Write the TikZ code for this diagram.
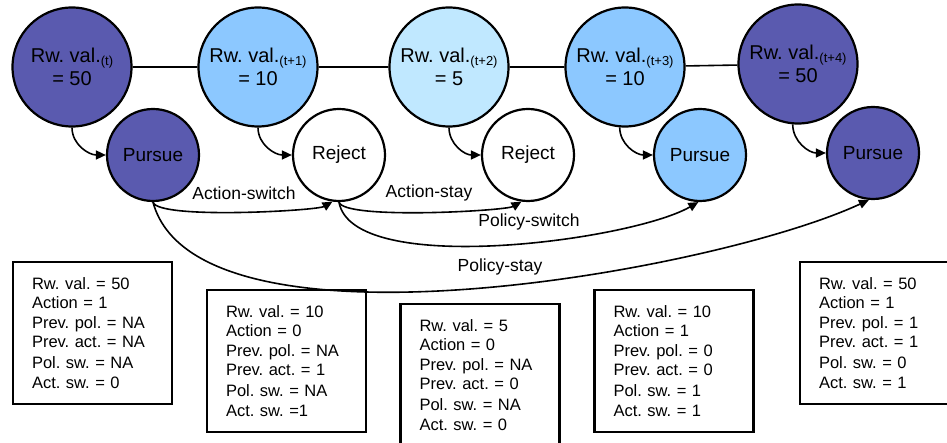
\documentclass[tikz,border=0pt]{standalone}
\usepackage{fontspec}
\setmainfont{Liberation Sans}
\usetikzlibrary{arrows.meta}
\definecolor{rwdark}{RGB}{90,90,175}
\definecolor{rwmid}{RGB}{140,200,255}
\definecolor{rwlight}{RGB}{192,232,255}
\newcommand{\rwsub}[1]{\raisebox{-3pt}{\fontsize{13}{13}\selectfont(#1)}}
\frenchspacing

\begin{document}
\begin{tikzpicture}[x=1pt,y=1pt,
    rw/.style={circle,draw,line width=2.2pt,minimum size=119pt,inner sep=0pt,align=center,font=\fontsize{20}{23}\selectfont},
    act/.style={circle,draw,line width=2.2pt,minimum size=92pt,inner sep=0pt,font=\fontsize{19}{22}\selectfont},
    infobox/.style={draw,line width=2.2pt,inner xsep=19pt,text width=121pt,minimum height=142pt,align=left,font=\fontsize{16.5}{19.3}\selectfont},
    lnk/.style={line width=1.6pt,-{Triangle[length=10pt,width=9pt]}},
    lbl/.style={font=\fontsize{17.5}{20}\selectfont}]
    \useasboundingbox (0,0) rectangle (947,-443);
    \clip (0,0) rectangle (947,-443);
    \node[rw,fill=rwdark] (rwA) at (72,-67) {Rw. val.\rwsub{t}\\= 50};
    \node[rw,fill=rwmid] (rwB) at (258,-67) {Rw. val.\rwsub{t+1}\\= 10};
    \node[rw,fill=rwlight] (rwC) at (449,-67) {Rw. val.\rwsub{t+2}\\= 5};
    \node[rw,fill=rwmid] (rwD) at (625,-67) {Rw. val.\rwsub{t+3}\\= 10};
    \node[rw,fill=rwdark] (rwE) at (798,-64) {Rw. val.\rwsub{t+4}\\= 50};
    \draw[line width=1.6pt] (rwA) -- (rwB) -- (rwC) -- (rwD) -- (rwE);
    \node[act,fill=rwdark] (actA) at (153,-155) {Pursue};
    \node[act,fill=white] (actB) at (339,-155) {Reject};
    \node[act,fill=white] (actC) at (528,-155) {Reject};
    \node[act,fill=rwmid] (actD) at (700,-155) {Pursue};
    \node[act,fill=rwdark] (actE) at (873,-153) {Pursue};
    \draw[lnk] (rwA.south) to[out=-90,in=180] (actA.west);
    \draw[lnk] (rwB.south) to[out=-90,in=180] (actB.west);
    \draw[lnk] (rwC.south) to[out=-90,in=180] (actC.west);
    \draw[lnk] (rwD.265) to[out=-90,in=180] (actD.west);
    \draw[lnk] (rwE.265) to[out=-90,in=180] (actE.west);
    \draw[lnk] (actA.south) to[out=-75,in=-150,looseness=0.26] (actB.262);
    \draw[lnk] (actB.south) to[out=-75,in=-150,looseness=0.26] (actC.262);
    \draw[lnk] (actB.south) to[out=-80,in=-150,looseness=0.55] (actD.268);
    \draw[lnk] (actA.south) to[out=-75,in=-155,looseness=0.6] (actE.265);
    \node[lbl] (lblAsw) at (244,-193) {Action-switch};
    \node[lbl] (lblAst) at (429,-193) {Action-stay};
    \node[lbl] (lblPsw) at (529,-222) {Policy-switch};
    \node[lbl] (lblPst) at (500,-267) {Policy-stay};
    \node[infobox] (boxA) at (92.5,-333) {Rw. val. = 50\\Action = 1\\Prev. pol. = NA\\Prev. act. = NA\\[2pt]Pol. sw. = NA\\Act. sw. = 0};
    \node[infobox] (boxB) at (286.5,-361) {Rw. val. = 10\\Action = 0\\Prev. pol. = NA\\Prev. act. = 1\\[2pt]Pol. sw. = NA\\Act. sw. =1};
    \node[infobox] (boxC) at (480,-375) {Rw. val. = 5\\Action = 0\\Prev. pol. = NA\\Prev. act. = 0\\[2pt]Pol. sw. = NA\\Act. sw. = 0};
    \node[infobox] (boxD) at (674,-361) {Rw. val. = 10\\Action = 1\\Prev. pol. = 0\\Prev. act. = 0\\[2pt]Pol. sw. = 1\\Act. sw. = 1};
    \node[infobox] (boxE) at (879.5,-333) {Rw. val. = 50\\Action = 1\\Prev. pol. = 1\\Prev. act. = 1\\[2pt]Pol. sw. = 0\\Act. sw. = 1};
\end{tikzpicture}
\end{document}
